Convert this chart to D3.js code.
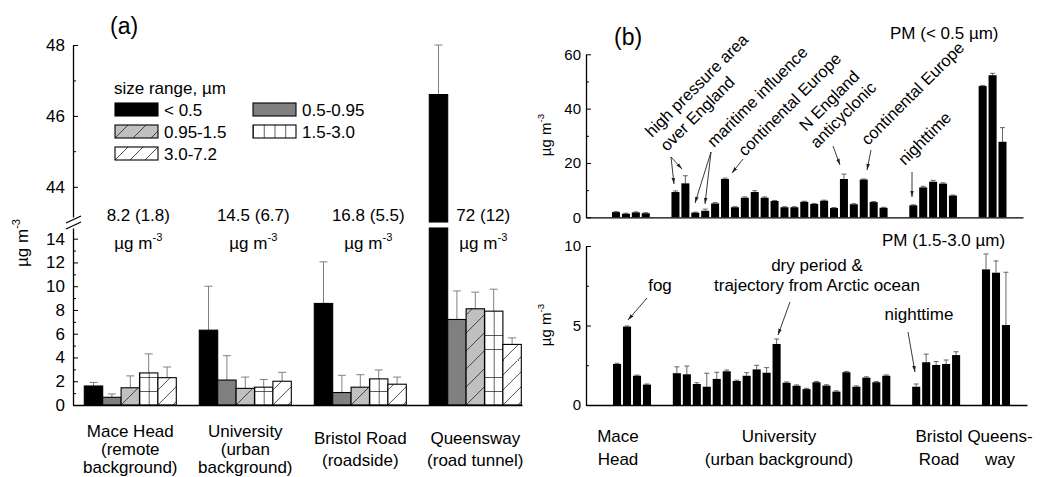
<!DOCTYPE html>
<html>
<head>
<meta charset="utf-8">
<script src="https://cdn.jsdelivr.net/npm/d3@7"></script>
<style>
  body { margin: 0; background: #fff; }
  text { font-family: Arial, "Liberation Sans", sans-serif; fill: #000; }
</style>
</head>
<body>
<div id="chart"></div>
<script>
// ---------- data ----------
// panel (a): mean (and SD) per size range, one value per site
const sites = ['Mace Head', 'University', 'Bristol Road', 'Queensway'];
const sizeRanges = ['< 0.5', '0.5-0.95', '0.95-1.5', '1.5-3.0', '3.0-7.2'];
const pm05 = [1.6, 6.3, 8.55, 46.6];
const pm05Sd = [0.3, 3.7, 3.5, 1.4];
const pm095 = [0.65, 2.1, 1.05, 7.2];
const pm095Sd = [0.28, 2.05, 1.45, 2.4];
const pm15 = [1.45, 1.4, 1.5, 8.1];
const pm15Sd = [1.0, 0.95, 1.05, 1.4];
const pm30 = [2.7, 1.5, 2.2, 7.9];
const pm30Sd = [1.6, 0.65, 0.75, 1.85];
const pm72 = [2.3, 2.0, 1.75, 5.1];
const pm72Sd = [0.9, 0.75, 0.6, 0.55];
const totals = ['8.2 (1.8)', '14.5 (6.7)', '16.8 (5.5)', '72 (12)'];
const siteLabelsA = [
  ['Mace Head', '(remote', 'background)'],
  ['University', '(urban', 'background)'],
  ['Bristol Road', '(roadside)'],
  ['Queensway', '(road tunnel)'],
];
const ticksLow = [0, 2, 4, 6, 8, 10, 12, 14];
const ticksHigh = [44, 46, 48];

// panel (b): individual samples, PM < 0.5 um and PM 1.5-3.0 um
const fineMace = [1.9, 1.3, 1.8, 1.5];
const fineMaceErr = [0.2, 0.2, 0.2, 0.2];
const fineUniv = [9.3, 12.5, 1.7, 2.4, 5.1, 14.1, 3.7, 7.2, 9.3, 7.2, 6.0,
  3.7, 3.7, 5.7, 4.9, 6.1, 3.4, 14.1, 4.8, 13.9, 5.6, 3.5];
const fineUnivErr = [0.4, 2.8, 0.2, 0.6, 0.3, 0.3, 0.2, 0.3, 0.5, 0.3, 0.2,
  0.2, 0.2, 0.2, 0.2, 0.2, 0.2, 1.8, 0.2, 0.2, 0.2, 0.2];
const fineBristol = [4.4, 11.0, 13.1, 12.4, 8.0];
const fineBristolErr = [0.2, 0.4, 0.5, 0.3, 0.2];
const fineQueens = [48.3, 52.3, 27.8];
const fineQueensErr = [0.2, 0.7, 5.2];

const coarseMace = [2.58, 4.93, 1.84, 1.28];
const coarseMaceErr = [0.04, 0.04, 0.04, 0.04];
const coarseUniv = [2.0, 1.93, 1.32, 1.15, 1.64, 2.12, 1.51, 1.84, 2.24, 2.03, 3.84,
  1.4, 1.21, 1.0, 1.43, 1.22, 0.84, 2.06, 1.15, 1.72, 1.43, 1.84];
const coarseUnivErr = [0.4, 0.52, 0.08, 0.85, 0.42, 0.08, 0.05, 0.19, 0.26, 0.32, 0.31,
  0.05, 0.05, 0.05, 0.05, 0.05, 0.05, 0.05, 0.05, 0.05, 0.05, 0.05];
const coarseBristol = [1.15, 2.69, 2.52, 2.58, 3.14];
const coarseBristolErr = [0.17, 0.51, 0.21, 0.25, 0.21];
const coarseQueens = [8.53, 8.32, 5.03];
const coarseQueensErr = [0.97, 0.74, 3.32];

const siteLabelsB = [['Mace', 'Head'], ['University', '(urban background)'], ['Bristol', 'Road'], ['Queens-', 'way']];
const ticksTop = [0, 20, 40, 60];
const ticksBottom = [0, 5, 10];

// ---------- svg ----------
const svg = d3.select('#chart')
  .append('svg')
  .attr('width', 1043)
  .attr('height', 477);

const defs = svg.append('defs');

// hatch pattern anchored at a bar's bottom-left corner
let patternCount = 0;
function makePattern(kind, x0, y0) {
  const id = 'pat' + patternCount++;
  let w, h, bg, d;
  if (kind === 2) { w = 18; h = 18; bg = '#c0c0c0'; d = 'M0,18L18,0'; }
  else if (kind === 3) { w = 9.2; h = 14; bg = '#fff'; d = 'M0.4,0V14M0,0.4H9.2'; }
  else if (kind === 5) { w = 10.75; h = 40; bg = '#fff'; d = 'M0.4,0V40'; } // legend grid
  else { w = 15; h = 15; bg = '#fff'; d = 'M0,15L15,0'; }
  const p = defs.append('pattern').attr('id', id)
    .attr('patternUnits', 'userSpaceOnUse')
    .attr('x', x0).attr('y', y0).attr('width', w).attr('height', h);
  p.append('rect').attr('width', w).attr('height', h).attr('fill', bg);
  p.append('path').attr('d', d).attr('stroke', '#222').attr('stroke-width', 0.8);
  return 'url(#' + id + ')';
}
function fillFor(j, x0, y0) {
  if (j === 0) return '#000';
  if (j === 1) return '#808080';
  return makePattern(j, x0, y0);
}

defs.append('marker').attr('id', 'arrow')
  .attr('viewBox', '0 -3 7 6').attr('refX', 7).attr('refY', 0)
  .attr('markerWidth', 7).attr('markerHeight', 6).attr('orient', 'auto')
  .append('path').attr('d', 'M0,-2L7,0L0,2Z').attr('fill', '#222');

// unit text "µg m-3" with superscript
function unitText(sel, size) {
  sel.append('tspan').text('µg m');
  sel.append('tspan').attr('dy', -size * 0.45).style('font-size', size * 0.65 + 'px').text('-3');
}

const axisFont = (g, size) => {
  g.selectAll('text').style('font-size', size + 'px').style('font-family', 'Arial, "Liberation Sans", sans-serif');
  g.select('.domain').attr('stroke-width', 1.3);
};

// ================= panel (a) =================
const seriesA = [pm05, pm095, pm15, pm30, pm72];
const seriesASd = [pm05Sd, pm095Sd, pm15Sd, pm30Sd, pm72Sd];
const lowMax = 14.9;

const xA = d3.scaleBand().domain(sites).range([84.3, 521.3]).paddingInner(0.2).paddingOuter(0);
const xSub = d3.scaleBand().domain(sizeRanges).range([0, xA.bandwidth()]);
const yLow = d3.scaleLinear().domain([0, lowMax]).range([405, 228]);
const yHigh = d3.scaleLinear().domain([43, 48]).range([222, 45]);

const gA = svg.append('g');

const barsA = [];
sites.forEach((s, i) => {
  sizeRanges.forEach((r, j) => {
    barsA.push({ site: s, range: r, j: j, v: seriesA[j][i], sd: seriesASd[j][i] });
  });
});

// y position of a value on the broken axis
function yA(v) {
  return v > lowMax ? yHigh(v) : yLow(v);
}

// error bars
barsA.forEach((d) => {
  const cx = xA(d.site) + xSub(d.range) + xSub.bandwidth() / 2;
  gA.append('line')
    .attr('x1', cx).attr('x2', cx)
    .attr('y1', yA(d.v)).attr('y2', yA(d.v + d.sd))
    .attr('stroke', '#808080').attr('stroke-width', 1);
  gA.append('line')
    .attr('x1', cx - 4).attr('x2', cx + 4)
    .attr('y1', yA(d.v + d.sd)).attr('y2', yA(d.v + d.sd))
    .attr('stroke', '#808080').attr('stroke-width', 1);
});

// bars (split on the axis break when taller than the lower segment)
barsA.forEach((d) => {
  const x = xA(d.site) + xSub(d.range);
  const top = Math.min(d.v, lowMax);
  gA.append('rect')
    .attr('x', x).attr('y', yLow(top))
    .attr('width', xSub.bandwidth()).attr('height', yLow(0) - yLow(top))
    .attr('fill', fillFor(d.j, x, yLow(0))).attr('stroke', '#000').attr('stroke-width', 1.1);
  if (d.v > lowMax) {
    gA.append('rect')
      .attr('x', x).attr('y', yHigh(d.v))
      .attr('width', xSub.bandwidth()).attr('height', yHigh(43) - yHigh(d.v))
      .attr('fill', fillFor(d.j, x, yHigh(43))).attr('stroke', '#000').attr('stroke-width', 1.1);
  }
});

// axes
gA.append('g').attr('transform', 'translate(73,0)')
  .call(d3.axisLeft(yLow).tickValues(ticksLow).tickFormat(d3.format('d'))
    .tickSizeInner(-5).tickSizeOuter(0).tickPadding(8))
  .call((g) => axisFont(g, 17));
gA.append('g').attr('transform', 'translate(73,0)')
  .call(d3.axisLeft(yLow).tickValues(d3.range(1, 14, 2)).tickSizeInner(-3).tickSizeOuter(0).tickFormat(''))
  .call((g) => g.select('.domain').remove());
gA.append('g').attr('transform', 'translate(73,0)')
  .call(d3.axisLeft(yHigh.copy().domain([43.15, 48]).range([217, 45])).tickValues(ticksHigh)
    .tickFormat(d3.format('d')).tickSizeInner(-5).tickSizeOuter(0).tickPadding(8))
  .call((g) => axisFont(g, 17));
gA.append('g').attr('transform', 'translate(73,0)')
  .call(d3.axisLeft(yHigh).tickValues([45, 47]).tickSizeInner(-3).tickSizeOuter(0).tickFormat(''))
  .call((g) => g.select('.domain').remove());

// axis break marks
gA.append('line').attr('x1', 66).attr('y1', 223).attr('x2', 81).attr('y2', 216)
  .attr('stroke', '#000').attr('stroke-width', 1.3);
gA.append('line').attr('x1', 66).attr('y1', 229).attr('x2', 81).attr('y2', 222)
  .attr('stroke', '#000').attr('stroke-width', 1.3);

gA.append('g').attr('transform', 'translate(0,405)')
  .call(d3.axisBottom(d3.scaleLinear().range([73, 522])).tickValues([]).tickSizeOuter(0))
  .call((g) => g.select('.domain').attr('stroke-width', 1.3));

// y title
gA.append('text')
  .attr('transform', 'translate(28,243) rotate(-90)')
  .attr('text-anchor', 'middle')
  .style('font-size', '17px')
  .call((t) => unitText(t, 17));

// panel tag
gA.append('text').attr('x', 110).attr('y', 34).style('font-size', '23px').text('(a)');

// totals above each site
sites.forEach((s, i) => {
  const cx = xA(s) + xA.bandwidth() / 2 + 8;
  gA.append('text').attr('x', cx).attr('y', 221).attr('text-anchor', 'middle')
    .style('font-size', '17px').text(totals[i]);
  gA.append('text').attr('x', cx).attr('y', 249).attr('text-anchor', 'middle')
    .style('font-size', '17px').call((t) => unitText(t, 17));
});

// site labels
sites.forEach((s, i) => {
  const cx = xA(s) + xA.bandwidth() / 2;
  const lines = siteLabelsA[i];
  const y0 = lines.length === 3 ? 437 : 444;
  const step = lines.length === 3 ? 18 : 22;
  lines.forEach((ln, k) => {
    gA.append('text').attr('x', cx).attr('y', y0 + k * step).attr('text-anchor', 'middle')
      .style('font-size', '17px').text(ln);
  });
});

// legend
gA.append('text').attr('x', 114).attr('y', 94).style('font-size', '17px').text('size range, µm');
sizeRanges.forEach((r, j) => {
  const col = j % 2;
  const row = Math.floor(j / 2);
  const lx = 115 + col * 138;
  const ly = 103 + row * 22;
  gA.append('rect').attr('x', lx).attr('y', ly).attr('width', 43).attr('height', 13)
    .attr('fill', fillFor(j === 3 ? 5 : j, lx, ly + 13)).attr('stroke', '#000').attr('stroke-width', 1.1);
  gA.append('text').attr('x', lx + 49).attr('y', ly + 13).style('font-size', '17px').text(r);
});

// ================= panel (b) =================
const gB = svg.append('g');
const slotStart = [0, 6, 30, 37];
const fineSets = [[fineMace, fineMaceErr], [fineUniv, fineUnivErr], [fineBristol, fineBristolErr], [fineQueens, fineQueensErr]];
const coarseSets = [[coarseMace, coarseMaceErr], [coarseUniv, coarseUnivErr], [coarseBristol, coarseBristolErr], [coarseQueens, coarseQueensErr]];

const samples = [];
sites.forEach((s, i) => {
  fineSets[i][0].forEach((v, k) => {
    samples.push({
      slot: slotStart[i] + k,
      fine: v, fineErr: fineSets[i][1][k],
      coarse: coarseSets[i][0][k], coarseErr: coarseSets[i][1][k],
    });
  });
});

const xTop = d3.scaleBand().domain(d3.range(40)).range([612, 1006.5]).paddingInner(0.19).paddingOuter(0);
const xBot = d3.scaleBand().domain(d3.range(40)).range([613, 1010]).paddingInner(0.19).paddingOuter(0);
const yTop = d3.scaleLinear().domain([0, 60]).range([217.3, 54.3]);
const yBot = d3.scaleLinear().domain([0, 10]).range([405, 246]);

function drawPanel(x, y, key, errKey, xEnd, ticks, minor) {
  // error bars
  samples.forEach((d) => {
    const cx = x(d.slot) + x.bandwidth() / 2;
    const yt = y(d[key] + d[errKey]);
    gB.append('line').attr('x1', cx).attr('x2', cx).attr('y1', y(d[key])).attr('y2', yt)
      .attr('stroke', '#555').attr('stroke-width', 0.9);
    gB.append('line').attr('x1', cx - 2.5).attr('x2', cx + 2.5).attr('y1', yt).attr('y2', yt)
      .attr('stroke', '#555').attr('stroke-width', 0.9);
  });
  gB.selectAll(null)
    .data(samples)
    .enter()
    .append('rect')
    .attr('x', (d) => x(d.slot))
    .attr('y', (d) => y(d[key]))
    .attr('width', x.bandwidth())
    .attr('height', (d) => y(0) - y(d[key]))
    .attr('fill', '#000');

  gB.append('g').attr('transform', 'translate(586,0)')
    .call(d3.axisLeft(y).tickValues(ticks).tickSizeInner(-5).tickSizeOuter(0).tickPadding(5))
    .call((g) => axisFont(g, 15));
  gB.append('g').attr('transform', 'translate(586,0)')
    .call(d3.axisLeft(y).tickValues(minor).tickSizeInner(-3).tickSizeOuter(0).tickFormat(''))
    .call((g) => g.select('.domain').remove());
  gB.append('g').attr('transform', `translate(0,${y(0)})`)
    .call(d3.axisBottom(d3.scaleLinear().range([586, xEnd])).tickValues([]).tickSizeOuter(0))
    .call((g) => g.select('.domain').attr('stroke-width', 1.3));
}

drawPanel(xTop, yTop, 'fine', 'fineErr', 1023, ticksTop, [10, 30, 50]);
drawPanel(xBot, yBot, 'coarse', 'coarseErr', 1027, ticksBottom, [2.5, 7.5]);

// y titles
gB.append('text').attr('transform', 'translate(551,135) rotate(-90)')
  .attr('text-anchor', 'middle').style('font-size', '15px').call((t) => unitText(t, 15));
gB.append('text').attr('transform', 'translate(551,325) rotate(-90)')
  .attr('text-anchor', 'middle').style('font-size', '15px').call((t) => unitText(t, 15));

gB.append('text').attr('x', 614).attr('y', 45).style('font-size', '23px').text('(b)');
gB.append('text').attr('x', 890).attr('y', 39).style('font-size', '17px').text('PM (< 0.5 µm)');
gB.append('text').attr('x', 882).attr('y', 246).style('font-size', '17px').text('PM (1.5-3.0 µm)');

// rotated notes on the upper panel
const notesTop = [
  ['high pressure area', 652, 138],
  ['over England', 667, 152],
  ['maritime influence', 714, 148],
  ['continental Europe', 745, 157],
  ['N England', 806, 132],
  ['anticyclonic', 817, 149],
  ['continental Europe', 868, 146],
  ['nighttime', 905, 166],
];
notesTop.forEach(([t, x, y]) => {
  gB.append('text').attr('transform', `translate(${x},${y}) rotate(-45)`)
    .style('font-size', '16.5px').text(t);
});

// horizontal notes on the lower panel
const notesBottom = [
  ['fog', 660, 291],
  ['dry period &', 817, 271],
  ['trajectory from Arctic ocean', 817, 291],
  ['nighttime', 919, 320],
];
notesBottom.forEach(([t, x, y]) => {
  gB.append('text').attr('x', x).attr('y', y).attr('text-anchor', 'middle')
    .style('font-size', '17px').text(t);
});

// arrows
const arrows = [
  [671, 157, 674, 184], [671, 157, 682, 169],
  [711, 152, 695, 203], [711, 152, 705, 204],
  [743, 159, 732, 173],
  [833, 146, 840, 165],
  [871, 150, 867, 170],
  [912, 172, 912, 197],
  [647, 298, 628, 320],
  [790, 302, 778, 335],
  [908, 332, 915, 372],
];
arrows.forEach(([x1, y1, x2, y2]) => {
  gB.append('line').attr('x1', x1).attr('y1', y1).attr('x2', x2).attr('y2', y2)
    .attr('stroke', '#222').attr('stroke-width', 0.9).attr('marker-end', 'url(#arrow)');
});

// site labels below panel (b)
const labelXB = [618, 779, 939, 1000];
siteLabelsB.forEach((lines, i) => {
  lines.forEach((ln, k) => {
    gB.append('text').attr('x', labelXB[i]).attr('y', 442 + k * 23).attr('text-anchor', 'middle')
      .style('font-size', '17px').text(ln);
  });
});
</script>
</body>
</html>
